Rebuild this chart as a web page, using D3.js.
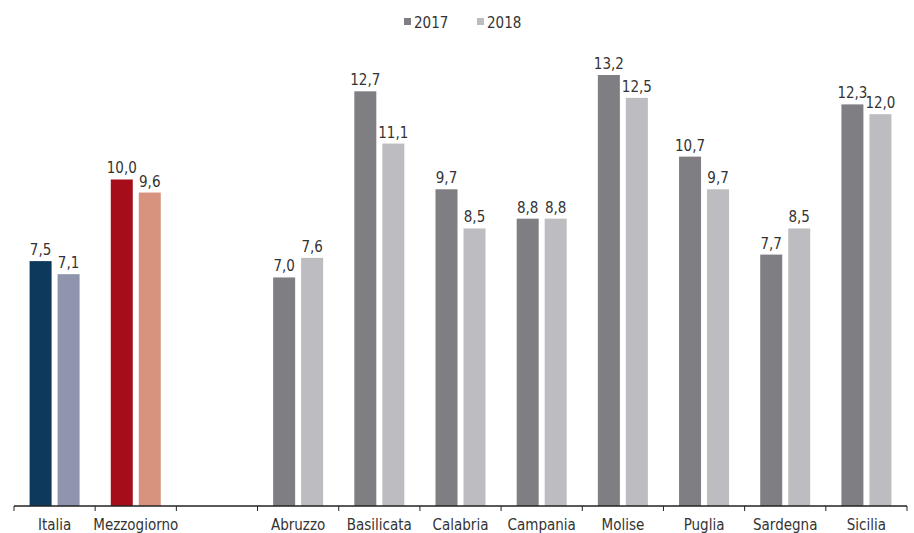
<!DOCTYPE html>
<html>
<head>
<meta charset="utf-8">
<script src="https://cdn.jsdelivr.net/npm/d3@7"></script>
<style>
  body { margin: 0; background: #fff; }
  text { font-family: "Liberation Sans Narrow", "DejaVu Sans Condensed", sans-serif; fill: #333; }
</style>
</head>
<body>
<div id="chart"></div>
<script>
const categories = ["Italia", "Mezzogiorno", "", "Abruzzo", "Basilicata", "Calabria", "Campania", "Molise", "Puglia", "Sardegna", "Sicilia"];
const years = ["2017", "2018"];
const values2017 = [7.5, 10.0, null, 7.0, 12.7, 9.7, 8.8, 13.2, 10.7, 7.7, 12.3];
const values2018 = [7.1, 9.6, null, 7.6, 11.1, 8.5, 8.8, 12.5, 9.7, 8.5, 12.0];

// colours: default grey pair, special pairs for Italia and Mezzogiorno
const defaultColors = ["#7f7f83", "#bdbdc1"];
const specialColors = {
    "Italia": ["#0d3a5c", "#8e95ad"],
    "Mezzogiorno": ["#a50d1a", "#d8937f"]
};

const width = 914, height = 533;
const margin = {top: 75, right: 7, bottom: 27, left: 14};

const svg = d3.select("#chart")
    .append("svg")
    .attr("width", width)
    .attr("height", height);

const x = d3.scaleBand()
    .domain(d3.range(categories.length))
    .range([margin.left, width - margin.right]);

const y = d3.scaleLinear()
    .domain([0, 13.2])
    .range([height - margin.bottom, margin.top]);

const barW = 22, gap = 6;
const fmt = v => d3.format(".1f")(v).replace(".", ",");

const data = [];
categories.forEach((c, i) => {
    if (values2017[i] == null) return;
    const cols = specialColors[c] || defaultColors;
    data.push({i, k: 0, v: values2017[i], color: cols[0]});
    data.push({i, k: 1, v: values2018[i], color: cols[1]});
});

const barX = d => x(d.i) + x.bandwidth() / 2 - barW - gap / 2 + d.k * (barW + gap);

svg.selectAll(".bar")
    .data(data)
    .enter().append("rect")
    .attr("class", "bar")
    .attr("x", barX)
    .attr("y", d => y(d.v))
    .attr("width", barW)
    .attr("height", d => y(0) - y(d.v))
    .attr("fill", d => d.color);

svg.selectAll(".val")
    .data(data)
    .enter().append("text")
    .attr("class", "val")
    .attr("x", d => barX(d) + barW / 2)
    .attr("y", d => y(d.v) - 6)
    .attr("text-anchor", "middle")
    .style("font-size", "15px")
    .text(d => fmt(d.v));

// axis line and ticks at band boundaries
const axis = svg.append("g");
axis.append("line")
    .attr("x1", margin.left).attr("x2", width - margin.right)
    .attr("y1", y(0)).attr("y2", y(0))
    .attr("stroke", "#222").attr("stroke-width", 1.5);

const bounds = d3.range(categories.length + 1).map(i => margin.left + i * x.step());
axis.selectAll(".tick")
    .data(bounds)
    .enter().append("line")
    .attr("x1", d => d).attr("x2", d => d)
    .attr("y1", y(0)).attr("y2", y(0) + 5)
    .attr("stroke", "#222").attr("stroke-width", 1);

axis.selectAll(".cat")
    .data(categories)
    .enter().append("text")
    .attr("x", (d, i) => x(i) + x.bandwidth() / 2)
    .attr("y", y(0) + 24)
    .attr("text-anchor", "middle")
    .style("font-size", "15px")
    .text(d => d);

// legend
const legend = svg.append("g").attr("transform", "translate(404,16)");
years.forEach((yr, j) => {
    const g = legend.append("g").attr("transform", `translate(${j * 73},0)`);
    g.append("rect")
        .attr("x", 0).attr("y", 2)
        .attr("width", 7).attr("height", 7)
        .attr("fill", defaultColors[j]);
    g.append("text")
        .attr("x", 10).attr("y", 12)
        .style("font-size", "15px")
        .text(yr);
});
</script>
</body>
</html>
